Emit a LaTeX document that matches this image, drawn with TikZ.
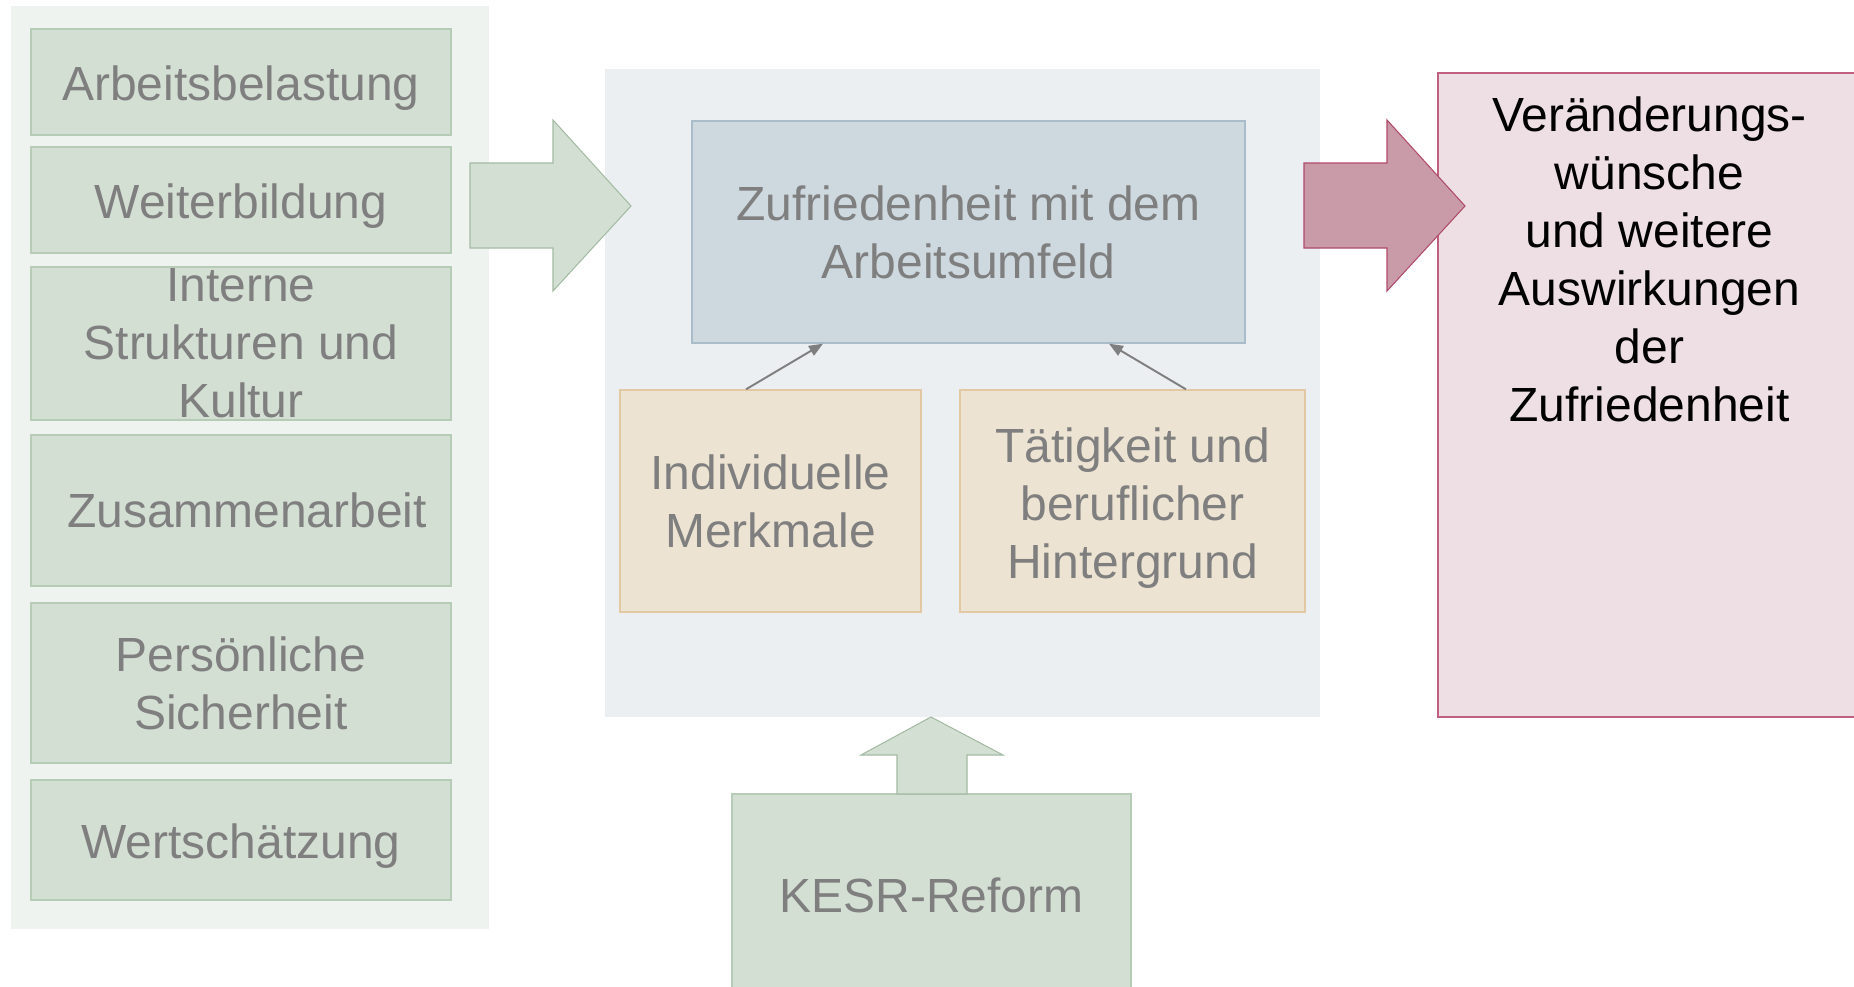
\documentclass[tikz,border=0pt]{standalone}
\usepackage{fontspec}
\setmainfont{Liberation Sans}
\usetikzlibrary{arrows.meta}
\definecolor{panelgreen}{HTML}{EEF3EF}
\definecolor{boxgreen}{HTML}{D4DFD4}
\definecolor{linegreen}{HTML}{B6CCB6}
\definecolor{arrowgreen}{HTML}{A3BBA3}
\definecolor{txtgray}{HTML}{7F7F7F}
\definecolor{panelblue}{HTML}{EBEFF2}
\definecolor{boxblue}{HTML}{CDD8DF}
\definecolor{lineblue}{HTML}{AABCC9}
\definecolor{boxtan}{HTML}{EDE3D2}
\definecolor{linetan}{HTML}{E2C9A3}
\definecolor{boxrose}{HTML}{EDDFE3}
\definecolor{linerose}{HTML}{C0607E}
\definecolor{arrowrose}{HTML}{C99BA8}
\definecolor{arrowroseline}{HTML}{B04A6B}
\begin{document}
\begin{tikzpicture}[x=0.02cm, y=-0.02cm]
  \tikzset{ ftext/.style={text=txtgray, align=center, inner sep=0pt, font=\fontsize{27.3pt}{33pt}\selectfont},
    factor/.style={ftext, draw=linegreen, fill=boxgreen, line width=0.8pt, minimum width=8.4cm},
    lowtext/.style={text height=24pt, text depth=3pt},
    core/.style={ftext, draw=lineblue, fill=boxblue, line width=0.8pt, minimum width=11.06cm, minimum height=4.44cm},
    moderator/.style={ftext, draw=linetan, fill=boxtan, line width=0.8pt, minimum height=4.44cm},
    outbox/.style={draw=linerose, fill=boxrose, line width=0.8pt, minimum width=8.36cm, minimum height=12.88cm, inner sep=0pt},
    otext/.style={ftext, text=black},
    garrow/.style={draw=arrowgreen, fill=boxgreen, line width=0.6pt},
    parrow/.style={draw=arrowroseline, fill=arrowrose, line width=0.6pt},
    link/.style={draw=txtgray, line width=1.1pt, -{Triangle[length=0.28cm, width=0.22cm]}} };
  \useasboundingbox (0,0) rectangle (1854,987);
  \fill[panelgreen] (11,6) rectangle (489,929);
  \fill[panelblue] (605,69) rectangle (1320,717);
  \node[factor, lowtext, minimum height=2.12cm] (last) at (241,82) {Arbeitsbelastung};
  \node[factor, lowtext, minimum height=2.12cm] (bild) at (241,200) {Weiterbildung};
  \node[factor, minimum height=3.06cm, label={[ftext]center:Interne\\Strukturen und\\Kultur}] (intern) at (241,343.5) {};
  \node[factor, minimum height=3.02cm] (zusam) at (241,510.5) {\hspace*{0.24cm}Zusammenarbeit};
  \node[factor, minimum height=3.2cm] (sicher) at (241,683) {Persönliche\\Sicherheit};
  \node[factor, lowtext, minimum height=2.4cm] (wert) at (241,840) {Wertschätzung};
  \node[core] (zuf) at (968.5,232) {Zufriedenheit mit dem\\Arbeitsumfeld};
  \node[moderator, minimum width=6.02cm] (indiv) at (770.5,501) {Individuelle\\Merkmale};
  \node[moderator, minimum width=6.9cm, label={[ftext, yshift=-0.14cm]center:Tätigkeit und\\beruflicher\\Hintergrund}] (taet) at (1132.5,501) {};
  \node[factor, minimum width=7.98cm, minimum height=4.04cm] (kesr) at (931.5,895) {KESR-Reform};
  \node[outbox, label={[otext, anchor=north, yshift=-0.48cm, xshift=0.05cm]north:Veränderungs-\\wünsche\\und weitere\\Auswirkungen\\der\\Zufriedenheit}] (folgen) at (1647,395) {};
  \draw[link] ([xshift=-0.49cm]indiv.north) -- ([xshift=-2.91cm]zuf.south);
  \draw[link] ([xshift=1.07cm]taet.north) -- ([xshift=2.81cm]zuf.south);
  \draw[garrow] (470,163) -- (553,163) -- (553,120) -- (631,206) -- (553,291) -- (553,248) -- (470,248) -- cycle;
  \draw[parrow] (1304,163) -- (1387,163) -- (1387,120) -- (1465,206) -- (1387,291) -- (1387,248) -- (1304,248) -- cycle;
  \draw[garrow] (897,794) -- (897,755) -- (861,755) -- (931,717) -- (1003,755) -- (967,755) -- (967,794) -- cycle;
\end{tikzpicture}
\end{document}
